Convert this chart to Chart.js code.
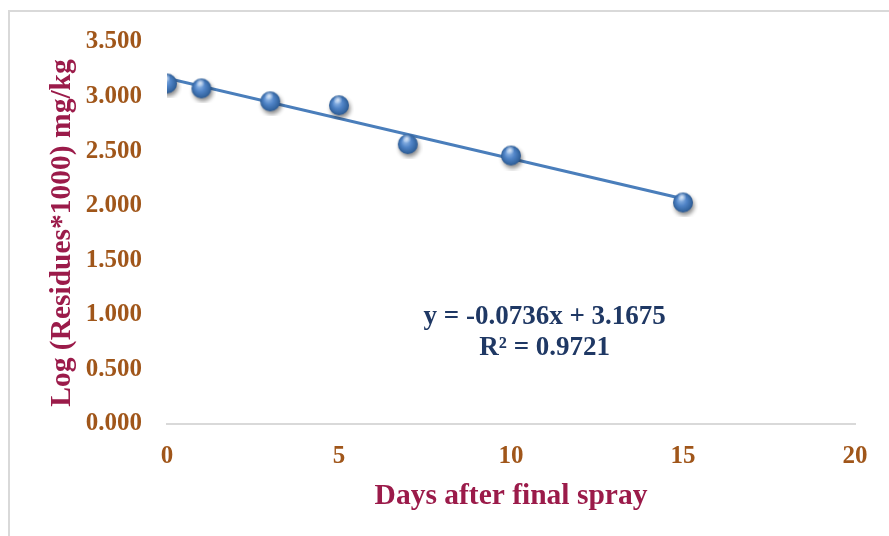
<!DOCTYPE html>
<html>
<head>
<meta charset="utf-8">
<script src="https://cdn.jsdelivr.net/npm/chart.js@4.4.1/dist/chart.umd.min.js"></script>
<style>
  html, body { margin: 0; padding: 0; background: #fff; overflow: hidden; }
  #marco { position: absolute; left: 8px; top: 10px; width: 1000px; height: 700px;
           border-left: 2px solid #d9d9d9; border-top: 2px solid #d9d9d9; }
  #grafica { position: absolute; left: 0; top: 0; }
</style>
</head>
<body>
<div id="marco"></div>
<canvas id="grafica" width="889" height="536"></canvas>
<script>
// datos
var dias = [0, 1, 3, 5, 7, 10, 15];
var logResiduos = [3.12, 3.075, 2.956, 2.92, 2.564, 2.46, 2.03];
var pendiente = -0.0736;
var intercepto = 3.1675;
var rCuadrado = 0.9721;
var ticksY = [0, 0.5, 1, 1.5, 2, 2.5, 3, 3.5];
var ticksX = [0, 5, 10, 15, 20];

var puntos = dias.map(function (d, i) { return { x: d, y: logResiduos[i] }; });
var xIni = dias[0];
var xFin = dias[dias.length - 1];
var tendencia = [
  { x: xIni, y: intercepto + pendiente * xIni },
  { x: xFin, y: intercepto + pendiente * xFin }
];

// bolita azul tipo Excel
function hacerBola(r) {
  var c = document.createElement('canvas');
  var s = Math.ceil(2 * r + 10);
  c.width = s; c.height = s;
  var g = c.getContext('2d');
  var cx = s / 2, cy = s / 2;
  g.save();
  g.shadowColor = 'rgba(0,0,0,0.45)';
  g.shadowBlur = 4;
  g.shadowOffsetX = 1.5;
  g.shadowOffsetY = 3;
  var grad = g.createRadialGradient(cx - r * 0.25, cy - r * 0.35, r * 0.1, cx, cy, r * 1.05);
  grad.addColorStop(0, '#8fb6e6');
  grad.addColorStop(0.45, '#4f83c6');
  grad.addColorStop(0.85, '#33649f');
  grad.addColorStop(1, '#2a5389');
  g.fillStyle = grad;
  g.beginPath();
  g.arc(cx, cy, r, 0, Math.PI * 2);
  g.fill();
  g.restore();
  // brillo
  var hl = g.createRadialGradient(cx - r * 0.1, cy - r * 0.55, 0, cx - r * 0.1, cy - r * 0.55, r * 0.45);
  hl.addColorStop(0, 'rgba(255,255,255,0.75)');
  hl.addColorStop(1, 'rgba(255,255,255,0)');
  g.fillStyle = hl;
  g.beginPath();
  g.arc(cx, cy, r, 0, Math.PI * 2);
  g.fill();
  return c;
}
var bola = hacerBola(10);

var serif = "'Liberation Serif', 'Times New Roman', serif";
var colorTicks = '#A0561A';
var colorTitulos = '#9B1B4A';
var colorEcuacion = '#1F3864';

var ecuacionPlugin = {
  id: 'ecuacion',
  afterDatasetsDraw: function (chart) {
    var ctx = chart.ctx;
    var a = chart.chartArea;
    var sig = intercepto >= 0 ? ' + ' : ' - ';
    var linea1 = 'y = ' + pendiente.toFixed(4) + 'x' + sig + Math.abs(intercepto).toFixed(4);
    var linea2 = 'R\u00B2 = ' + rCuadrado.toFixed(4);
    var cx = a.left + (a.right - a.left) * 0.549;
    var alto = a.bottom - a.top;
    ctx.save();
    ctx.font = 'bold 27px ' + serif;
    ctx.fillStyle = colorEcuacion;
    ctx.textAlign = 'center';
    ctx.textBaseline = 'middle';
    ctx.fillText(linea1, cx, a.top + alto * 0.72);
    ctx.fillText(linea2, cx, a.top + alto * 0.80);
    ctx.restore();
  }
};

var ctx = document.getElementById('grafica');
var chart = new Chart(ctx, {
  type: 'scatter',
  data: {
    datasets: [{
      label: 'Log residuos',
      data: puntos,
      order: 0,
      pointStyle: bola,
      pointRadius: 10,
      showLine: false
    }, {
      label: 'Tendencia',
      type: 'line',
      data: tendencia,
      order: 1,
      borderColor: '#4a7ebb',
      borderWidth: 3,
      pointRadius: 0,
      fill: false
    }]
  },
  plugins: [ecuacionPlugin],
  options: {
    responsive: false,
    animation: false,
    layout: { padding: { top: 42, right: 34, bottom: 0, left: 0 } },
    plugins: {
      legend: { display: false },
      tooltip: { enabled: false }
    },
    scales: {
      x: {
        type: 'linear',
        min: 0,
        max: 20,
        afterBuildTicks: function (s) { s.ticks = ticksX.map(function (v) { return { value: v }; }); },
        afterFit: function (s) { s.height = 112; },
        ticks: {
          color: colorTicks,
          font: { family: serif, size: 25, weight: 'bold' },
          padding: 10
        },
        grid: { display: false },
        border: { display: true, color: '#d9d9d9', width: 2 },
        title: {
          display: true,
          text: 'Days after final spray',
          color: colorTitulos,
          font: { family: serif, size: 29.5, weight: 'bold' },
          padding: { top: 5, bottom: 22 }
        }
      },
      y: {
        type: 'linear',
        min: 0,
        max: 3.5,
        afterBuildTicks: function (s) { s.ticks = ticksY.map(function (v) { return { value: v }; }); },
        afterFit: function (s) { s.width = 167; },
        ticks: {
          color: colorTicks,
          font: { family: serif, size: 25, weight: 'bold' },
          padding: 17,
          callback: function (v) { return Number(v).toFixed(3); }
        },
        grid: { display: false },
        border: { display: false },
        title: {
          display: true,
          text: 'Log (Residues*1000) mg/kg',
          color: colorTitulos,
          font: { family: serif, size: 29.5, weight: 'bold' },
          padding: { top: 45, bottom: 7 }
        }
      }
    }
  }
});
</script>
</body>
</html>
